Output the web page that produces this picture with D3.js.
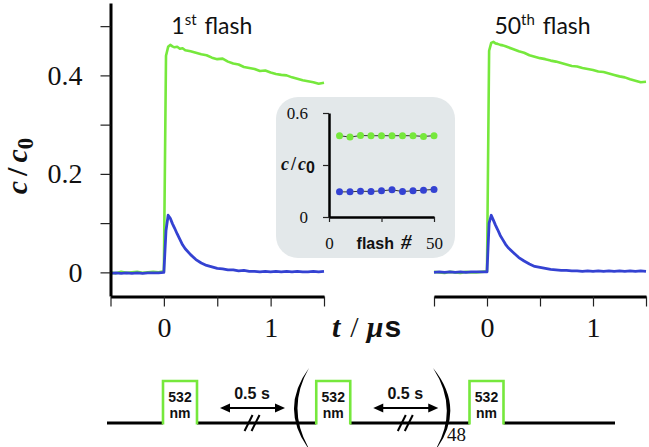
<!DOCTYPE html>
<html><head><meta charset="utf-8">
<script src="https://cdn.jsdelivr.net/npm/d3@7"></script>
<style>body{margin:0;background:#fff}svg{display:block}</style>
</head><body>
<svg id="c" width="649" height="447"></svg>
<script>
// ---------- data ----------
const time = [-0.5,-0.45,-0.4,-0.35,-0.3,-0.25,-0.2,-0.15,-0.1,-0.05,0,0.02,0.04,0.06,0.08,0.1,0.125,0.15,0.175,0.2,0.25,0.3,0.35,0.4,0.45,0.5,0.55,0.6,0.65,0.7,0.75,0.8,0.85,0.9,0.95,1.0,1.05,1.1,1.15,1.2,1.25,1.3,1.35,1.4,1.45,1.5];
const greenFirst = [0.000,-0.002,0.001,-0.001,0.000,0.001,-0.001,0.000,0.001,0.000,0.002,0.440,0.458,0.462,0.459,0.457,0.458,0.454,0.455,0.451,0.449,0.446,0.443,0.441,0.436,0.433,0.434,0.428,0.424,0.422,0.417,0.415,0.413,0.409,0.410,0.406,0.403,0.401,0.400,0.396,0.393,0.390,0.388,0.386,0.383,0.385];
const blueFirst = [-0.002,-0.001,-0.002,-0.001,-0.002,-0.001,-0.002,-0.001,-0.001,-0.001,0.000,0.085,0.116,0.110,0.099,0.090,0.078,0.067,0.056,0.048,0.036,0.026,0.019,0.014,0.011,0.008,0.007,0.005,0.005,0.003,0.004,0.002,0.002,0.001,0.002,0.001,0.002,0.001,0.002,0.001,0.002,0.001,0.001,0.002,0.001,0.002];
const greenLast = [0.001,0.000,-0.001,0.001,0.000,-0.001,0.001,0.000,0.000,0.001,0.002,0.450,0.466,0.468,0.465,0.464,0.462,0.461,0.459,0.457,0.453,0.449,0.446,0.441,0.438,0.435,0.433,0.430,0.428,0.425,0.422,0.419,0.418,0.415,0.413,0.411,0.408,0.407,0.404,0.401,0.398,0.396,0.392,0.389,0.386,0.387];
const blueLast = [0.000,0.001,0.000,0.001,0.000,0.001,0.000,0.001,0.001,0.001,0.001,0.100,0.116,0.106,0.096,0.087,0.075,0.066,0.057,0.050,0.040,0.030,0.023,0.017,0.012,0.010,0.008,0.006,0.005,0.004,0.004,0.003,0.003,0.002,0.003,0.002,0.003,0.002,0.003,0.002,0.003,0.002,0.003,0.002,0.003,0.002];
const panelOrdinals = ["1", "50"];
const panelSuffixes = ["st", "th"];
const yTicks = [0, 0.1, 0.2, 0.3, 0.4, 0.5];
const yTickLabels = ["0", "", "0.2", "", "0.4", ""];
const xTicks = [-0.5, 0, 0.5, 1, 1.5];
const xTickLabels = ["", "0", "", "1", ""];

const insetFlash = [5,10,15,20,25,30,35,40,45,50];
const insetGreen = [0.469,0.461,0.470,0.469,0.469,0.469,0.469,0.469,0.465,0.469];
const insetBlue = [0.145,0.145,0.149,0.147,0.151,0.157,0.147,0.151,0.155,0.159];
const insetYTicks = [0, 0.3, 0.6];
const insetYLabels = ["0", "", "0.6"];
const insetXTicks = [0, 25, 50];
const insetXLabels = ["0", "", "50"];

const pulseSlots = [0, 1, 2];
const gapSlots = [0.47, 1.47];
const pulseText = ["532", "nm"];
const gapText = "0.5 s";
const repeatCount = "48";

// ---------- style ----------
const GREEN = "#76e83c", BLUE = "#3442d2";
const SERIF = "'Liberation Serif','DejaVu Serif',serif";
const SANS = "'Liberation Sans','DejaVu Sans',sans-serif";

const svg = d3.select("#c");
const y = d3.scaleLinear().domain([-0.048, 0.547]).range([296, 3]);

const panels = [
  {x: d3.scaleLinear().domain([-0.5, 1.5]).range([110.5, 324]), g: greenFirst, b: blueFirst},
  {x: d3.scaleLinear().domain([-0.5, 1.5]).range([434, 646]), g: greenLast, b: blueLast}
];

function styleAxis(g, w) {
  g.select(".domain").attr("stroke", "#000").attr("stroke-width", w);
  g.selectAll(".tick line").attr("stroke", "#222").attr("stroke-width", 1.2);
}

panels.forEach((p, i) => {
  const line = d3.line().x((d, j) => p.x(time[j])).y(d => y(d)).curve(d3.curveLinear);
  svg.append("path").attr("d", line(p.g)).attr("fill", "none")
    .attr("stroke", GREEN).attr("stroke-width", 2.6).attr("stroke-linejoin", "round");
  svg.append("path").attr("d", line(p.b)).attr("fill", "none")
    .attr("stroke", BLUE).attr("stroke-width", 2.8).attr("stroke-linejoin", "round");

  const ax = svg.append("g").attr("transform", "translate(0,296.5)")
    .call(d3.axisBottom(p.x).tickValues(xTicks).tickFormat((d, k) => xTickLabels[k])
      .tickSize(10).tickSizeOuter(0).tickPadding(11));
  styleAxis(ax, 3);
  ax.selectAll("text").attr("font-family", SERIF).attr("font-size", 28).attr("fill", "#111");

  const t = svg.append("text").attr("x", p.x(0.07)).attr("y", 34)
    .attr("font-family", "Lato, " + SANS).attr("font-size", 23).attr("fill", "#111");
  t.append("tspan").text(panelOrdinals[i]);
  t.append("tspan").attr("dy", -9).attr("font-size", 15).text(panelSuffixes[i]);
  t.append("tspan").attr("dy", 9).attr("dx", 8).text("flash");
});

const ay = svg.append("g").attr("transform", "translate(110.5,0)")
  .call(d3.axisLeft(y).tickValues(yTicks).tickFormat((d, k) => yTickLabels[k])
    .tickSize(10).tickSizeOuter(0).tickPadding(18));
styleAxis(ay, 3);
ay.selectAll("text").attr("font-family", SERIF).attr("font-size", 28).attr("fill", "#111");

const yl = svg.append("text").attr("transform", "translate(27,166) rotate(-90)")
  .attr("text-anchor", "middle").attr("font-family", SERIF).attr("font-size", 30)
  .attr("font-weight", "bold").attr("font-style", "italic").attr("fill", "#111");
yl.append("tspan").text("c");
yl.append("tspan").attr("dx", 5).attr("font-style", "normal").text("/");
yl.append("tspan").attr("dx", 5).text("c");
yl.append("tspan").attr("dy", 6).attr("font-size", 23).attr("font-style", "normal").text("0");

const xl = svg.append("text").attr("x", 332).attr("y", 337).attr("font-size", 30).attr("fill", "#111");
xl.append("tspan").attr("font-family", SERIF).attr("font-weight", "bold").attr("font-style", "italic").text("t");
xl.append("tspan").attr("dx", 10).attr("font-family", SERIF).text("/");
xl.append("tspan").attr("dx", 8).attr("font-family", SERIF).attr("font-weight", "bold").attr("font-style", "italic").text("\u03bc");
xl.append("tspan").attr("dx", 1).attr("font-family", SANS).attr("font-weight", "bold").text("s");

// ---------- inset ----------
const gi = svg.append("g");
gi.append("rect").attr("x", 276).attr("y", 97).attr("width", 179).attr("height", 161)
  .attr("rx", 22).attr("fill", "#e3e8ea");
const xi = d3.scaleLinear().domain([0, 50]).range([329, 434]);
const yi = d3.scaleLinear().domain([0, 0.6]).range([217, 113]);
[[insetGreen, GREEN], [insetBlue, BLUE]].forEach(([vals, col]) => {
  const l = d3.line().x((d, j) => xi(insetFlash[j])).y(d => yi(d));
  gi.append("path").attr("d", l(vals)).attr("fill", "none").attr("stroke", "#333").attr("stroke-width", 1);
  gi.selectAll(null).data(vals).enter().append("circle")
    .attr("cx", (d, j) => xi(insetFlash[j])).attr("cy", d => yi(d)).attr("r", 3.5).attr("fill", col);
});
const iax = gi.append("g").attr("transform", "translate(0,217)")
  .call(d3.axisBottom(xi).tickValues(insetXTicks).tickFormat((d, k) => insetXLabels[k])
    .tickSize(5).tickSizeOuter(0).tickPadding(15));
styleAxis(iax, 2.5);
iax.selectAll("text").attr("font-family", SERIF).attr("font-size", 17).attr("fill", "#111");
const iay = gi.append("g").attr("transform", "translate(329,0)")
  .call(d3.axisLeft(yi).tickValues(insetYTicks).tickFormat((d, k) => insetYLabels[k])
    .tickSize(6).tickSizeOuter(0).tickPadding(15));
styleAxis(iay, 2.5);
iay.selectAll("text").attr("font-family", SERIF).attr("font-size", 17).attr("fill", "#111");
const fl = gi.append("text").attr("x", 384).attr("y", 249).attr("text-anchor", "middle")
  .attr("font-family", SANS).attr("font-weight", "bold").attr("font-size", 16).attr("fill", "#111");
fl.append("tspan").text("flash");
fl.append("tspan").attr("dx", 7).attr("font-family", SERIF).attr("font-style", "italic").attr("font-size", 21).text("#");
const il = gi.append("text").attr("x", 298).attr("y", 170).attr("text-anchor", "middle")
  .attr("font-family", SERIF).attr("font-weight", "bold").attr("font-style", "italic")
  .attr("font-size", 18).attr("fill", "#111");
il.append("tspan").text("c");
il.append("tspan").attr("dx", 2).attr("font-style", "normal").text("/");
il.append("tspan").attr("dx", 2).text("c");
il.append("tspan").attr("dy", 3).attr("font-family", SANS).attr("font-style", "normal").attr("font-size", 16).text("0");

// ---------- pulse scheme ----------
const seq = d3.scaleLinear().domain([0, 2]).range([180, 486.5]);
const baseY = 423, topY = 381, halfW = 17;
const gs = svg.append("g");
const edges = [107];
pulseSlots.forEach(s => { edges.push(seq(s) - halfW, seq(s) + halfW); });
edges.push(615);
for (let k = 0; k < edges.length; k += 2) {
  gs.append("line").attr("x1", edges[k]).attr("x2", edges[k + 1]).attr("y1", baseY).attr("y2", baseY)
    .attr("stroke", "#000").attr("stroke-width", 3);
}
pulseSlots.forEach(s => {
  const cx = seq(s);
  gs.append("path").attr("d", `M${cx - halfW},${baseY + 1.5}V${topY}H${cx + halfW}V${baseY + 1.5}`)
    .attr("fill", "none").attr("stroke", GREEN).attr("stroke-width", 2.6);
  gs.append("text").attr("x", cx).attr("y", 401.5).attr("text-anchor", "middle")
    .attr("font-family", SANS).attr("font-weight", "bold").attr("font-size", 14).attr("fill", "#111").text(pulseText[0]);
  gs.append("text").attr("x", cx).attr("y", 417.5).attr("text-anchor", "middle")
    .attr("font-family", SANS).attr("font-weight", "bold").attr("font-size", 14).attr("fill", "#111").text(pulseText[1]);
});
gapSlots.forEach(s => {
  const cx = seq(s);
  const x1 = cx - 32, x2 = cx + 33, ay0 = 408;
  gs.append("line").attr("x1", x1 + 6).attr("x2", x2 - 6).attr("y1", ay0).attr("y2", ay0)
    .attr("stroke", "#000").attr("stroke-width", 2);
  gs.append("path").attr("d", `M${x1},${ay0}L${x1 + 10},${ay0 - 4.5}L${x1 + 10},${ay0 + 4.5}Z`).attr("fill", "#000");
  gs.append("path").attr("d", `M${x2},${ay0}L${x2 - 10},${ay0 - 4.5}L${x2 - 10},${ay0 + 4.5}Z`).attr("fill", "#000");
  gs.append("text").attr("x", cx).attr("y", 399).attr("text-anchor", "middle")
    .attr("font-family", SANS).attr("font-weight", "bold").attr("font-size", 16).attr("fill", "#111").text(gapText);
  [-3.5, 3.5].forEach(o => {
    gs.append("line").attr("x1", cx + o - 4).attr("y1", baseY + 8).attr("x2", cx + o + 4).attr("y2", baseY - 8)
      .attr("stroke", "#000").attr("stroke-width", 2);
  });
});
const pl = seq(0.796), pr = seq(1.71);
gs.append("path").attr("d", `M${pl + 7},368Q${pl - 24},410 ${pl + 9},452Q${pl - 17},410 ${pl + 7},368Z`).attr("fill", "#000");
gs.append("path").attr("d", `M${pr - 9},368Q${pr + 25},410 ${pr - 8},452Q${pr + 18},410 ${pr - 9},368Z`).attr("fill", "#000");
gs.append("text").attr("x", pr + 5).attr("y", 441).attr("font-family", SERIF).attr("font-size", 19)
  .attr("fill", "#111").text(repeatCount);
</script>
</body></html>
